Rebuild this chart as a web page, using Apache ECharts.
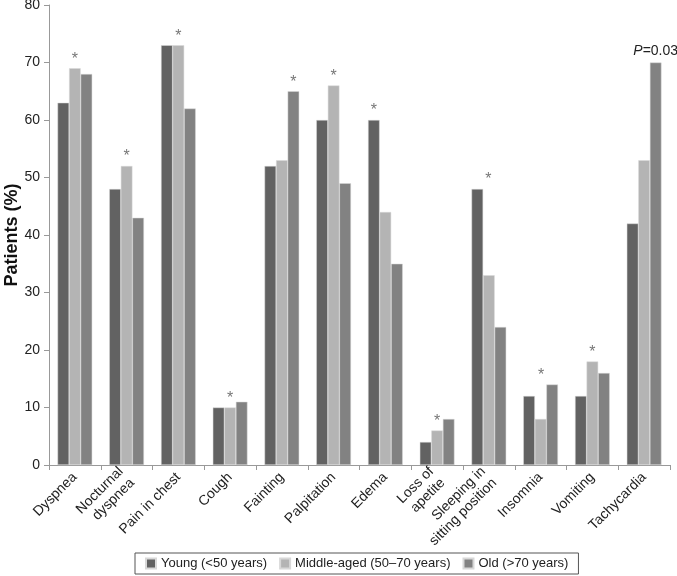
<!DOCTYPE html>
<html><head><meta charset="utf-8">
<script src="https://cdn.jsdelivr.net/npm/echarts@6/dist/echarts.min.js"></script>
<style>html,body{margin:0;padding:0;background:#fff}#c{width:677px;height:576px}</style>
</head><body><div id="c"></div>
<script>
const categories = ['Dyspnea','Nocturnal\ndyspnea','Pain in chest','Cough','Fainting','Palpitation','Edema','Loss of\napetite','Sleeping in\nsitting position','Insomnia','Vomiting','Tachycardia'];
const seriesNames = ['Young (<50 years)','Middle-aged (50\u201370 years)','Old (>70 years)'];
const young  = [63, 48, 73, 10, 52, 60, 60, 4, 48, 12, 12, 42];
const middle = [69, 52, 73, 10, 53, 66, 44, 6, 33, 8, 18, 53];
const old    = [68, 43, 62, 11, 65, 49, 35, 8, 24, 14, 16, 70];
// which series' bar the significance mark sits above per category (0 young, 1 middle, 2 old)
const starOn = [1, 1, 1, 1, 2, 1, 0, 1, 0, 2, 1, 2];
const starText = ['*','*','*','*','*','*','*','*','*','*','*','P=0.03'];
const yTicks = [0,10,20,30,40,50,60,70,80];

const colors = ['#626262','#b4b4b4','#828282'];
const starShift = {8: [11,0], 9: [-11,0]};
function build(vals, si){
  return vals.map((v,i)=>{
    if (starOn[i] !== si) return v;
    const isP = starText[i] !== '*';
    const lbl = isP ? {show:true, position:'top', distance:4, formatter:'{i|P}{n|=0.03}',
        rich:{i:{fontStyle:'italic',fontSize:14,color:'#222',fontFamily:'Liberation Sans'},n:{fontSize:14,color:'#222',fontFamily:'Liberation Sans'}}}
      : {show:true, position:'top', distance:1, formatter:'*', fontSize:16, color:'#777', fontFamily:'Liberation Sans',
         offset: (starShift[i] || [0,0])};
    return {value:v, label:lbl};
  });
}
const chart = echarts.init(document.getElementById('c'));
chart.setOption({
  animation:false,
  grid:{left:49, top:5, right:7, bottom:111, containLabel:false, outerBoundsMode:'none'},
  legend:{
    top:553, left:135, itemWidth:10, itemHeight:10, itemGap:12,
    borderColor:'#555', borderWidth:1, padding:[4,10,4,10],
    textStyle:{fontSize:13, color:'#222', fontFamily:'Liberation Sans'},
    data: seriesNames.map(n=>({name:n, icon:'rect'}))
  },
  xAxis:{
    type:'category', data:categories,
    axisLine:{lineStyle:{color:'#999'}},
    axisTick:{show:true, length:5, lineStyle:{color:'#999'}},
    axisLabel:{rotate:45, fontSize:14, color:'#222', fontFamily:'Liberation Sans', margin:10, lineHeight:16}
  },
  yAxis:{
    type:'value', min:yTicks[0], max:yTicks[yTicks.length-1], interval:10,
    name:'Patients (%)', nameLocation:'middle', nameGap:28, nameMoveOverlap:false,
    nameTextStyle:{fontSize:18, fontWeight:'bold', color:'#111', fontFamily:'Liberation Sans'},
    axisLine:{show:true, lineStyle:{color:'#999'}},
    axisTick:{show:true, length:5, lineStyle:{color:'#999'}},
    splitLine:{show:false},
    axisLabel:{fontSize:14, color:'#222', fontFamily:'Liberation Sans', margin:9}
  },
  series:[young, middle, old].map((vals,si)=>({
    name:seriesNames[si], type:'bar', data:build(vals,si),
    barGap:'0%', barCategoryGap:'33%',
    itemStyle:{color:colors[si], borderColor:'#d8d8d8', borderWidth:0.5}
  }))
});
</script></body></html>
